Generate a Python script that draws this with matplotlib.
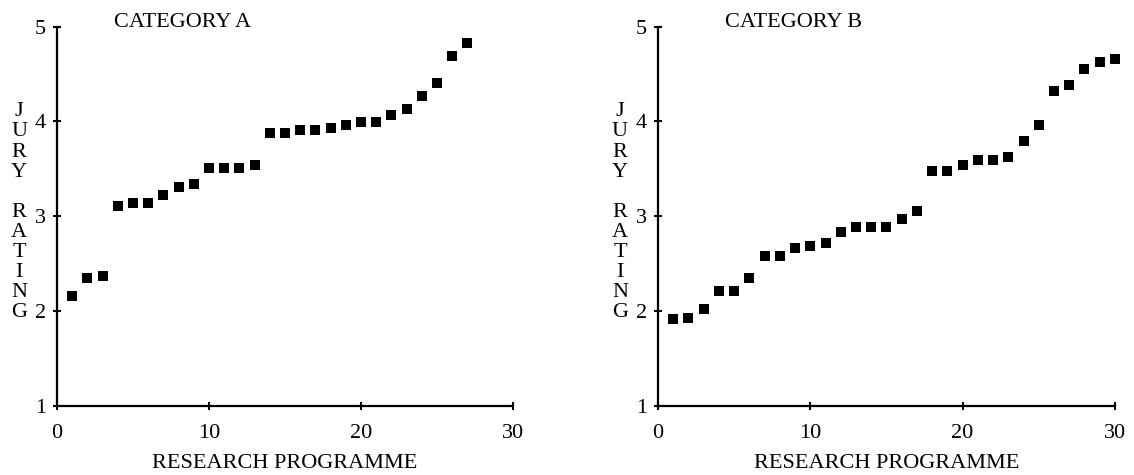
import numpy as np
import matplotlib
matplotlib.use("Agg")
import matplotlib.pyplot as plt

plt.rcParams['font.family'] = ['Liberation Serif', 'DejaVu Serif']

# ratings, programmes sorted by rating
prog_a = list(range(1, 28))
rating_a = [2.16, 2.35, 2.37, 3.11, 3.14, 3.14, 3.22, 3.31, 3.34, 3.51,
            3.51, 3.51, 3.54, 3.88, 3.88, 3.91, 3.91, 3.93, 3.96, 3.99,
            3.99, 4.07, 4.13, 4.27, 4.41, 4.69, 4.83]

prog_b = list(range(1, 31))
rating_b = [1.91, 1.93, 2.02, 2.21, 2.21, 2.35, 2.58, 2.58, 2.66, 2.69,
            2.72, 2.83, 2.89, 2.89, 2.89, 2.97, 3.05, 3.48, 3.48, 3.54,
            3.59, 3.59, 3.62, 3.79, 3.96, 4.32, 4.38, 4.55, 4.63, 4.66]

x_ticks = [0, 10, 20, 30]
y_ticks = [1, 2, 3, 4, 5]

fig = plt.figure(figsize=(11.34, 4.75), dpi=100)
ax1 = fig.add_axes([0.0503, 0.1459, 0.4021, 0.798])
ax2 = fig.add_axes([0.5802, 0.1459, 0.403, 0.798])

panels = [(ax1, prog_a, rating_a, 'CATEGORY A', 0.125),
          (ax2, prog_b, rating_b, 'CATEGORY B', 0.147)]

for ax, xs, ys, title, tx in panels:
    ax.plot(xs, ys, 's', color='black', markersize=7, markeredgewidth=0,
            clip_on=False)
    ax.set_xlim(0, 30)
    ax.set_ylim(1, 5)
    ax.set_xticks(x_ticks)
    ax.set_yticks(y_ticks)
    for side in ['top', 'right']:
        ax.spines[side].set_visible(False)
    for side in ['left', 'bottom']:
        ax.spines[side].set_linewidth(1.6)
    ax.tick_params(axis='both', direction='inout', length=6, width=1.5,
                   labelsize=16)
    ax.tick_params(axis='x', pad=10)
    ax.tick_params(axis='y', pad=5)
    ax.set_xlabel('RESEARCH PROGRAMME', fontsize=16, labelpad=8)
    ax.text(tx, 1.01, title, transform=ax.transAxes, fontsize=16,
            ha='left', va='center')
    ax.text(-0.083, 0.51, 'J\nU\nR\nY\n\nR\nA\nT\nI\nN\nG',
            transform=ax.transAxes, fontsize=16, ha='center', va='center',
            linespacing=1.08, clip_on=False)

fig.savefig('out.png', dpi=100)
